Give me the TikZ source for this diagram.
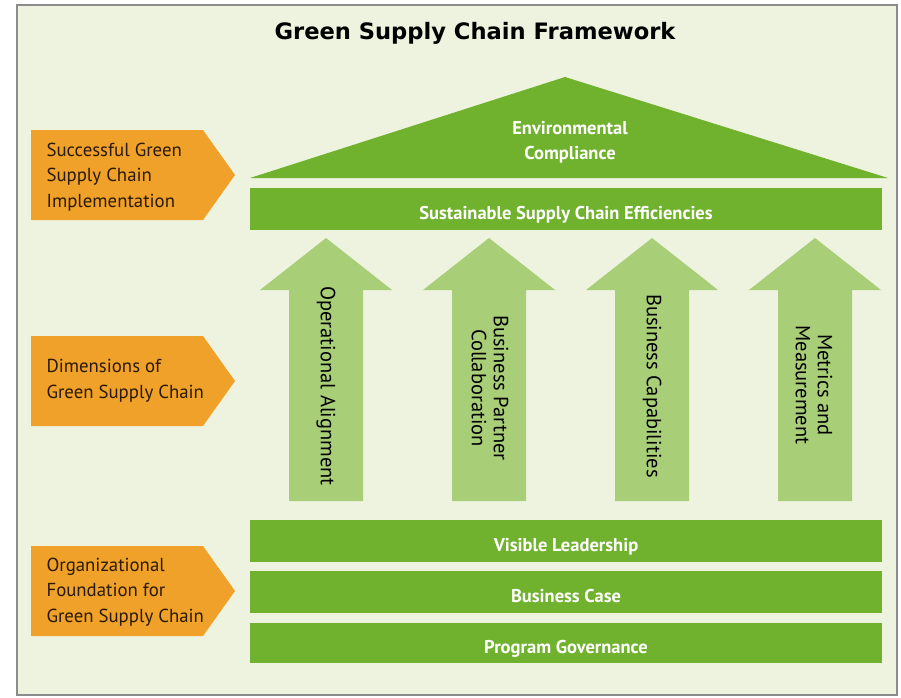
\documentclass[tikz,border=0pt]{standalone}
\usepackage{fontspec}
\setmainfont{PT Sans}
\newfontfamily\titlefont{DejaVu Sans}
\usetikzlibrary{positioning}
\definecolor{fondo}{HTML}{EEF3E0}
\definecolor{marco}{HTML}{8C8C8C}
\definecolor{naranja}{HTML}{F0A12A}
\definecolor{verde}{HTML}{70B22E}
\definecolor{verdeclaro}{HTML}{A8CE78}
\definecolor{texto}{HTML}{2A1A08}

\begin{document}
\begin{tikzpicture}[x=1pt,y=-1pt,
  etiqueta/.style={anchor=west,align=left,text=texto,font=\fontsize{18.8}{25.5}\selectfont},
  barra/.style={fill=verde,minimum width=632pt,minimum height=42pt,inner sep=0pt,text height=20pt,text depth=0pt,text=white,font=\bfseries\fontsize{18.5}{22}\selectfont},
  dimension/.style={rotate=-90,align=center,text=black,font=\fontsize{20.5}{22}\selectfont}]
  \useasboundingbox (0,0) rectangle (901,697);
  % marco y fondo
  \fill[white] (0,0) rectangle (901,697);
  \draw[marco,fill=fondo,line width=1.5pt] (17,5) rectangle (897,695);
  \node[font=\titlefont\bfseries\fontsize{22.6}{26}\selectfont] (titulo) at (475,33) {Green Supply Chain Framework};
  % flechas naranjas
  \foreach \yt in {130,336,546}
    \fill[naranja] (31,\yt) -- (203,\yt) -- (235,\yt+45) -- (203,\yt+90) -- (31,\yt+90) -- cycle;
  \node[etiqueta] (impl) at (43,177) {Successful Green\\Supply Chain\\Implementation};
  \node[etiqueta] (dim) at (43,381) {Dimensions of\\Green Supply Chain};
  \node[etiqueta] (org) at (43,592) {Organizational\\Foundation for\\Green Supply Chain};
  % techo
  \fill[verde] (250,178) -- (565,77) -- (888,178) -- cycle;
  \node[align=center,text=white,font=\bfseries\fontsize{18.5}{25}\selectfont] (env) at (570,142) {Environmental\\Compliance};
  \node[barra,minimum height=42pt] (sost) at (566,209) {Sustainable Supply Chain Efficiencies};
  % columnas
  \foreach \cx in {326,489,652,815}
    \fill[verdeclaro] (\cx-37,501) -- (\cx-37,290) -- (\cx-66,290) -- (\cx,238)
      -- (\cx+66,290) -- (\cx+37,290) -- (\cx+37,501) -- cycle;
  \node[dimension] (oper) at (326,386) {Operational Alignment};
  \node[dimension] (socio) at (490,388) {Business Partner\\Collaboration};
  \node[dimension] (capac) at (652,386) {Business Capabilities};
  \node[dimension] (metr) at (814,385) {Metrics and\\Measurement};
  % cimientos
  \node[barra] (lider) at (566,541) {Visible Leadership};
  \node[barra] (caso) at (566,592) {Business Case};
  \node[barra,minimum height=40pt] (gob) at (566,643) {Program Governance};
\end{tikzpicture}
\end{document}
